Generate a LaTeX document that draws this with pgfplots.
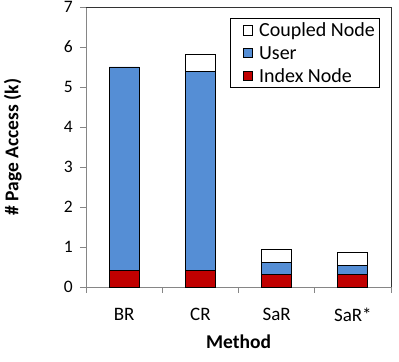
\documentclass[border=0pt]{standalone}
\usepackage{fontspec}
\setmainfont{Carlito}
\usepackage{pgfplots}
\pgfplotsset{compat=1.18}
\definecolor{userblue}{HTML}{558ED5}
\definecolor{idxred}{HTML}{C00000}
\definecolor{axgray}{HTML}{868686}
\begin{document}
\begin{tikzpicture}
\begin{axis}[
  name=ax,
  scale only axis,
  width=305pt, height=280pt,
  ybar stacked, bar width=30pt,
  xmin=-0.5, xmax=3.5,
  ymin=0, ymax=7,
  xtick={0,1,2,3},
  xticklabels={BR,CR,SaR,SaR*},
  minor xtick={-0.5,0.5,1.5,2.5,3.5},
  ytick={0,1,...,7},
  axis lines*=left,
  axis line style={axgray, line width=0.8pt},
  tick align=outside,
  major tick length=6pt, minor tick length=6pt,
  every tick/.style={axgray, line width=0.8pt},
  major x tick style={draw=none},
  /pgf/number format/assume math mode=true,
  yticklabel style={font=\fontsize{17.5}{20}\selectfont, anchor=east, inner sep=0pt, xshift=-7pt},
  xticklabel style={font=\fontsize{19}{22}\selectfont, anchor=north, inner sep=0pt, yshift=-15pt},
  xlabel={\textbf{Method}},
  ylabel={\textbf{\# Page Access (k)}},
  label style={font=\fontsize{19.5}{23}\selectfont},
  xlabel style={at={(axis description cs:0.5,0)}, anchor=north, inner sep=0pt, yshift=-48pt},
  ylabel style={at={(axis description cs:0,0.5)}, anchor=south, inner sep=0pt, yshift=64pt, xshift=0pt},
  reverse legend,
  legend style={at={(axis description cs:0.961,0.961)}, anchor=north east,
    draw=black, line width=0.6pt, font=\fontsize{20}{24}\selectfont,
    inner xsep=4pt, inner ysep=5.5pt, row sep=9.7pt,
    nodes={inner sep=0pt, text height=13pt, text depth=0pt},
    column sep=6pt,
    cells={anchor=west}},
  legend image code/.code={\path (0pt,0pt); \draw[#1, line width=0.6pt] (9pt,-4.75pt) rectangle (18.5pt,4.75pt);},
  clip=false,
]
\addplot[fill=idxred, draw=black, line width=0.8pt] coordinates {(0,0.42) (1,0.42) (2,0.32) (3,0.32)};
\addplot[fill=userblue, draw=black, line width=0.8pt] coordinates {(0,5.08) (1,4.97) (2,0.30) (3,0.22)};
\addplot[fill=white, draw=black, line width=0.8pt] coordinates {(0,0) (1,0.42) (2,0.33) (3,0.335)};
\legend{Index Node, User, Coupled Node}
\draw[black!80, line width=0.8pt] (rel axis cs:0,1) -- (rel axis cs:1,1) -- (rel axis cs:1,0);
\end{axis}
\pgfresetboundingbox
\useasboundingbox ([xshift=-86pt,yshift=-75pt]ax.south west) rectangle ([xshift=8pt,yshift=7pt]ax.north east);
\end{tikzpicture}
\end{document}
